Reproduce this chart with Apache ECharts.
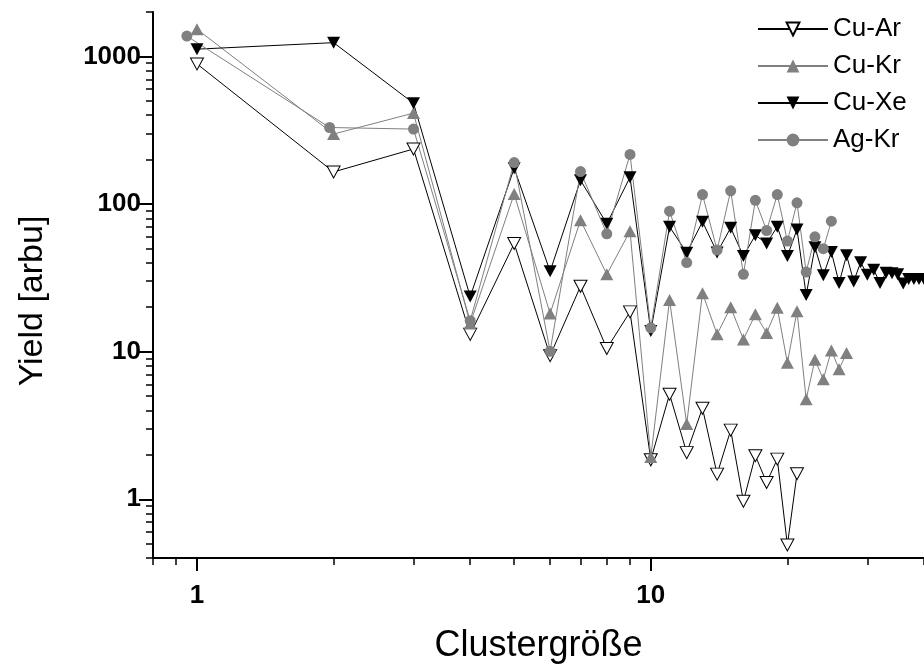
<!DOCTYPE html>
<html>
<head>
<meta charset="utf-8">
<script src="https://cdn.jsdelivr.net/npm/echarts@6/dist/echarts.min.js"></script>
<style>
html,body{margin:0;padding:0;background:#fff;}
#chart{width:924px;height:669px;}
</style>
</head>
<body>
<div id="chart"></div>
<script>
// ---- data ----
const seriesNames = ['Cu-Ar', 'Cu-Kr', 'Cu-Xe', 'Ag-Kr'];

const xCuAr = [1,2,3,4,5,6,7,8,9,10,11,12,13,14,15,16,17,18,19,20,21];
const yCuAr = [890,165,236,13.1,54,9.4,27.7,10.5,18.6,1.85,5.15,2.07,4.14,1.48,2.94,0.97,1.97,1.30,1.87,0.49,1.49];

const xCuKr = [1,2,3,4,5,6,7,8,9,10,11,12,13,14,15,16,17,18,19,20,21,22,23,24,25,26,27];
const yCuKr = [1530,298,413,15.5,117,18.1,77.8,33.4,65.5,1.93,22.4,3.24,24.9,13.1,20,12.1,17.9,13.4,19.8,8.4,18.8,4.76,8.8,6.5,10.2,7.6,9.8];

const xCuXe = [1,2,3,4,5,6,7,8,9,10,11,12,13,14,15,16,17,18,19,20,21,22,23,24,25,26,27,28,29,30,31,32,33,34,35,36,37,38,39,40];
const yCuXe = [1120,1240,482,23.6,175,35,145,73.5,152,13.8,70.2,46.8,75.9,47,69,44.4,61.5,54.1,70.2,44.4,67.3,24.2,50.9,32.9,47.3,29.2,45,29.9,40.3,33.2,35.9,29.2,34.3,34,33.4,29,31,31,31,31];

const xAgKr = [0.95,1.96,3,4,5,6,7,8,9,10,11,12,13,14,15,16,17,18,19,20,21,22,23,24,25];
const yAgKr = [1373,330,322,16.2,191,10.05,166,62.9,217,14.5,89.4,40.1,116,48.8,123,33.4,106,66.2,116,56.1,102,34.6,60,49.8,76.5];

// tick values
const xMajorTicks = [1, 10];
const xMinorTicks = [0.8,0.9,2,3,4,5,6,7,8,9,20,30,40];
const yMajorTicks = [1, 10, 100, 1000];
const yMinorTicks = [0.4,0.5,0.6,0.7,0.8,0.9,2,3,4,5,6,7,8,9,20,30,40,50,60,70,80,90,200,300,400,500,600,700,800,900,2000];

const xMin = 0.8, xMax = 40, yMin = 0.4, yMax = 2000;

// ---- chart ----
const FONT = '"Liberation Sans", Arial, sans-serif';
const pairs = (xs, ys) => xs.map((x, i) => [x, ys[i]]);

const chart = echarts.init(document.getElementById('chart'), null, {renderer: 'canvas'});

const baseAxis = {
  type: 'log', logBase: 10,
  splitLine: {show: false},
  minorTick: {show: false},
  minorSplitLine: {show: false}
};

const option = {
  animation: false,
  backgroundColor: '#ffffff',
  grid: {left: 153, right: -3, top: 12, bottom: 109, containLabel: false},
  legend: {
    orient: 'vertical',
    left: 752, top: 11,
    itemWidth: 70, itemHeight: 16, itemGap: 11,
    data: seriesNames,
    textStyle: {fontFamily: FONT, fontSize: 26, color: '#000', lineHeight: 16}
  },
  xAxis: [
    Object.assign({}, baseAxis, {
      min: xMin, max: xMax, position: 'bottom',
      name: 'Clustergröße', nameLocation: 'middle', nameGap: 70,
      nameTextStyle: {fontFamily: FONT, fontSize: 36, color: '#000'},
      axisLine: {show: true, onZero: false, lineStyle: {color: '#000', width: 2}},
      axisTick: {show: true, inside: false, length: 13, lineStyle: {color: '#000', width: 2}, customValues: xMajorTicks},
      axisLabel: {show: true, margin: 25, fontFamily: FONT, fontSize: 26, fontWeight: 'bold', color: '#000', customValues: xMajorTicks,
        formatter: v => String(Math.round(v))}
    }),
    Object.assign({}, baseAxis, {
      min: xMin, max: xMax, position: 'bottom', gridIndex: 0,
      axisLine: {show: false, onZero: false},
      axisTick: {show: true, inside: false, length: 7, lineStyle: {color: '#000', width: 1.5}, customValues: xMinorTicks},
      axisLabel: {show: false}
    })
  ],
  yAxis: [
    Object.assign({}, baseAxis, {
      min: yMin, max: yMax, position: 'left',
      name: 'Yield [arbu]', nameLocation: 'middle', nameGap: 103,
      nameTextStyle: {fontFamily: FONT, fontSize: 34, color: '#000', padding: [0, 32, 0, 0]},
      axisLine: {show: true, onZero: false, lineStyle: {color: '#000', width: 2}},
      axisTick: {show: true, inside: false, length: 14, lineStyle: {color: '#000', width: 2}, customValues: yMajorTicks},
      axisLabel: {show: true, margin: 12, fontFamily: FONT, fontSize: 26, fontWeight: 'bold', color: '#000', customValues: yMajorTicks,
        formatter: v => String(Math.round(v))}
    }),
    Object.assign({}, baseAxis, {
      min: yMin, max: yMax, position: 'left', gridIndex: 0,
      axisLine: {show: false, onZero: false},
      axisTick: {show: true, inside: false, length: 7, lineStyle: {color: '#000', width: 1.5}, customValues: yMinorTicks},
      axisLabel: {show: false}
    })
  ],
  series: [
    {
      name: 'Cu-Ar', type: 'line', data: pairs(xCuAr, yCuAr),
      symbol: 'triangle', symbolRotate: 180, symbolSize: [13, 12],
      itemStyle: {color: '#ffffff', borderColor: '#000000', borderWidth: 1},
      lineStyle: {color: '#000000', width: 1}
    },
    {
      name: 'Cu-Kr', type: 'line', data: pairs(xCuKr, yCuKr),
      symbol: 'triangle', symbolSize: [13, 12],
      itemStyle: {color: '#808080'},
      lineStyle: {color: '#808080', width: 1}
    },
    {
      name: 'Cu-Xe', type: 'line', data: pairs(xCuXe, yCuXe),
      symbol: 'triangle', symbolRotate: 180, symbolSize: [13, 12],
      itemStyle: {color: '#000000'},
      lineStyle: {color: '#000000', width: 1}
    },
    {
      name: 'Ag-Kr', type: 'line', data: pairs(xAgKr, yAgKr),
      symbol: 'circle', symbolSize: 11,
      itemStyle: {color: '#808080'},
      lineStyle: {color: '#808080', width: 1}
    }
  ]
};
chart.setOption(option);
</script>
</body>
</html>
